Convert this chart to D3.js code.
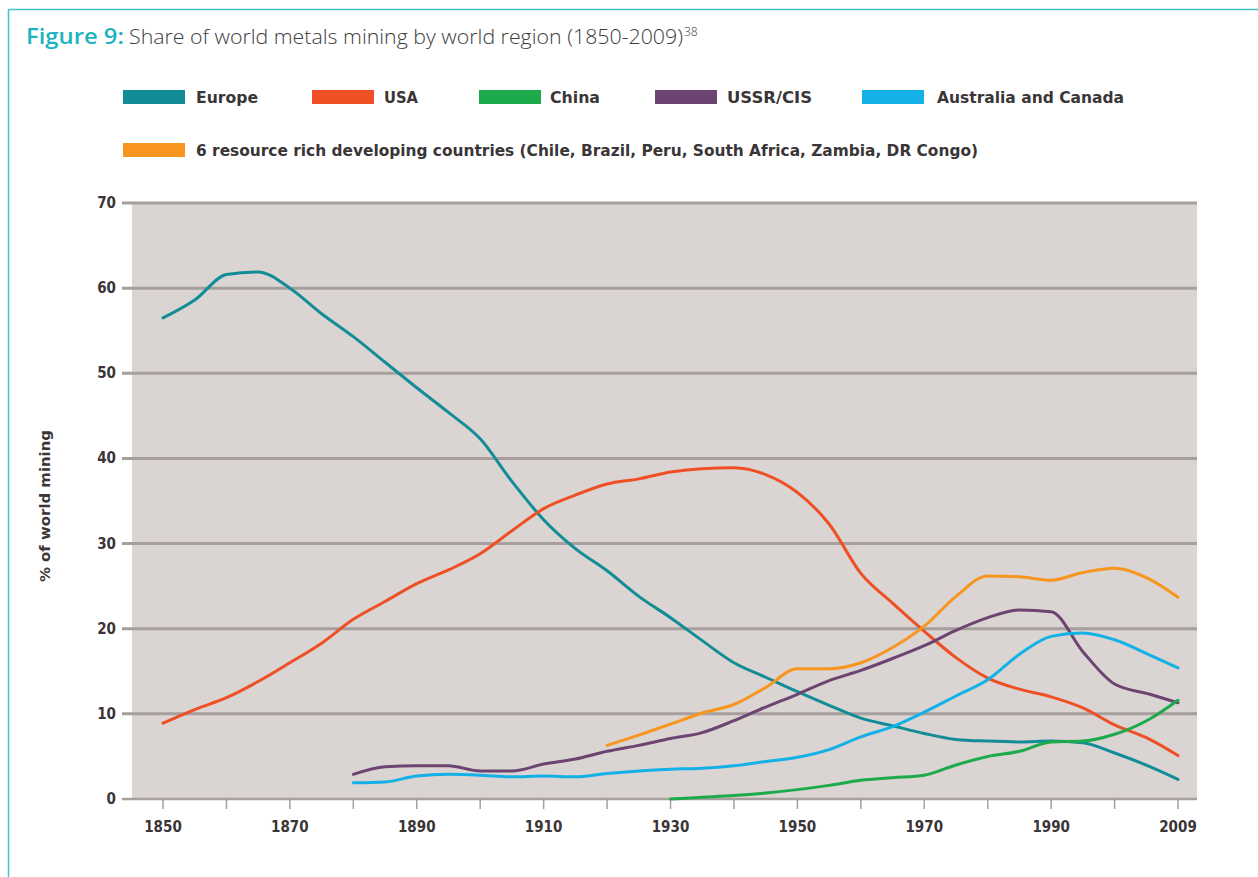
<!DOCTYPE html>
<html>
<head>
<meta charset="utf-8">
<script src="https://cdn.jsdelivr.net/npm/d3@7"></script>
<style>
  html, body { margin: 0; padding: 0; background: #ffffff; }
  svg { display: block; }
</style>
</head>
<body>
<svg id="chart" width="1258" height="877"></svg>
<script>
// ---------- DATA ----------
const years = [1850,1855,1860,1865,1870,1875,1880,1885,1890,1895,1900,1905,1910,1915,1920,1925,1930,1935,1940,1945,1950,1955,1960,1965,1970,1975,1980,1985,1990,1995,2000,2005,2009];

const europe = [56.5,58.6,61.6,61.9,60.0,57.0,54.3,51.3,48.3,45.4,42.3,37.3,32.8,29.4,26.8,23.8,21.3,18.6,16.0,14.3,12.6,11.0,9.5,8.6,7.7,7.0,6.8,6.7,6.8,6.6,5.4,3.8,2.3];
const usa    = [8.9,10.5,11.9,13.8,16.0,18.3,21.1,23.2,25.3,26.9,28.8,31.5,34.1,35.7,37.0,37.6,38.4,38.8,38.9,38.1,36.0,32.3,26.5,23.0,19.7,16.6,14.2,12.9,12.0,10.7,8.7,7.0,5.1];
const china  = [null,null,null,null,null,null,null,null,null,null,null,null,null,null,null,null,0.0,0.2,0.4,0.7,1.1,1.6,2.2,2.5,2.8,4.0,5.0,5.6,6.7,6.8,7.6,9.4,11.6];
const ussr   = [null,null,null,null,null,null,2.9,3.8,3.9,3.9,3.3,3.3,4.1,4.7,5.6,6.3,7.1,7.8,9.2,10.8,12.3,13.9,15.1,16.5,18.0,19.8,21.3,22.2,22.0,17.3,13.5,12.3,11.3];
const ausCan = [null,null,null,null,null,null,1.9,2.0,2.7,2.9,2.8,2.6,2.7,2.6,3.0,3.3,3.5,3.6,3.9,4.4,4.9,5.8,7.3,8.5,10.2,12.1,14.0,17.0,19.1,19.5,18.7,16.9,15.4];
const rich6  = [null,null,null,null,null,null,null,null,null,null,null,null,null,null,6.3,7.5,8.8,10.1,11.1,13.1,15.3,15.3,16.0,17.8,20.3,23.8,26.2,26.1,25.7,26.6,27.1,25.8,23.7];

const seriesNames = ["Europe","USA","China","USSR/CIS","Australia and Canada","6 resource rich developing countries (Chile, Brazil, Peru, South Africa, Zambia, DR Congo)"];
const yTicks = [0,10,20,30,40,50,60,70];
const xTicks = [1850,1860,1870,1880,1890,1900,1910,1920,1930,1940,1950,1960,1970,1980,1990,2000,2009];
const xTickLabels = [1850,1870,1890,1910,1930,1950,1970,1990,2009];

// ---------- STYLE ----------
const colors = ["#128d98","#ef4f24","#1caa4b","#6c4472","#13b1e6","#f7951f"];
const seriesValues = [europe, usa, china, ussr, ausCan, rich6];

const svg = d3.select("#chart");

// frame border
svg.append("line").attr("x1",8.5).attr("x2",1258).attr("y1",9.5).attr("y2",9.5)
  .attr("stroke","#45c0c7").attr("stroke-width",1.5);
svg.append("line").attr("x1",8.5).attr("x2",8.5).attr("y1",9.5).attr("y2",877)
  .attr("stroke","#45c0c7").attr("stroke-width",1.5);

// title
const title = svg.append("text").attr("y",44)
  .attr("font-family","Open Sans, Roboto, sans-serif").attr("font-size",21);
title.append("tspan").attr("x",26).attr("fill","#1db3c0").attr("font-weight",600)
  .attr("textLength",98).attr("lengthAdjust","spacingAndGlyphs").text("Figure 9:");
title.append("tspan").attr("x",129).attr("fill","#3c3c3c").attr("font-weight",300)
  .attr("textLength",554).attr("lengthAdjust","spacingAndGlyphs")
  .text("Share of world metals mining by world region (1850-2009)");
title.append("tspan").attr("x",684).attr("fill","#3c3c3c").attr("font-weight",300).attr("font-size",12)
  .attr("dy",-8).text("38");

// ---------- SCALES ----------
const x = d3.scaleLinear().domain([1850, 2000, 2009]).range([163, 1114.6, 1178]);
const y = d3.scaleLinear().domain([0, 70]).range([799, 203]);
const plotLeft = 132, plotRight = 1197, gridLeft = 122;

// background
svg.append("rect").attr("x",plotLeft).attr("y",y(70)).attr("width",plotRight-plotLeft)
  .attr("height",y(0)-y(70)).attr("fill","#dad4d2");

// gridlines
svg.append("g").selectAll("line").data(yTicks).join("line")
  .attr("x1",gridLeft).attr("x2",plotRight)
  .attr("y1",d=>y(d)).attr("y2",d=>y(d))
  .attr("stroke","#a69f9d").attr("stroke-width",d=>d===0?2.5:3);

// y labels
svg.append("g").selectAll("text").data(yTicks).join("text")
  .attr("x",116).attr("y",d=>y(d)+5).attr("text-anchor","end")
  .attr("font-family","DejaVu Sans Condensed, DejaVu Sans, sans-serif")
  .attr("font-weight","bold").attr("font-size",15).attr("fill","#3a3536")
  .text(d=>d);

// y title
svg.append("text").attr("transform","translate(50,506) rotate(-90)")
  .attr("x",-76)
  .attr("textLength",152).attr("lengthAdjust","spacingAndGlyphs")
  .attr("font-family","DejaVu Sans Condensed, DejaVu Sans, sans-serif")
  .attr("font-weight","bold").attr("font-size",14).attr("fill","#3a3536")
  .text("% of world mining");

// x ticks
svg.append("g").selectAll("line").data(xTicks).join("line")
  .attr("x1",d=>x(d)).attr("x2",d=>x(d)).attr("y1",799).attr("y2",809)
  .attr("stroke","#a69f9d").attr("stroke-width",1.5);
svg.append("g").selectAll("text").data(xTickLabels).join("text")
  .attr("x",d=>x(d)).attr("y",832).attr("text-anchor","middle")
  .attr("font-family","DejaVu Sans Condensed, DejaVu Sans, sans-serif")
  .attr("font-weight","bold").attr("font-size",15).attr("fill","#3a3536")
  .text(d=>d);

// lines
const line = d3.line()
  .defined(d=>d[1]!==null)
  .x(d=>x(d[0])).y(d=>y(d[1]))
  .curve(d3.curveMonotoneX);
const drawOrder = [0,1,3,4,5,2];
svg.append("g").selectAll("path").data(drawOrder).join("path")
  .attr("d",i=>line(years.map((yr,k)=>[yr, seriesValues[i][k]])))
  .attr("fill","none").attr("stroke",i=>colors[i]).attr("stroke-width",3)
  .attr("stroke-linejoin","round").attr("stroke-linecap","round");

// legend
const legendPos = [
  {sx:123, tx:196, ty:97, tw:62},
  {sx:312, tx:384, ty:97, tw:34},
  {sx:479, tx:550, ty:97, tw:50},
  {sx:655, tx:727, ty:97, tw:85},
  {sx:862, tx:937, ty:97, tw:187},
  {sx:123, tx:196, ty:150, tw:782}
];
const leg = svg.append("g");
leg.selectAll("rect").data(seriesNames).join("rect")
  .attr("x",(d,i)=>legendPos[i].sx).attr("y",(d,i)=>legendPos[i].ty-7)
  .attr("width",62).attr("height",14).attr("fill",(d,i)=>colors[i]);
leg.selectAll("text").data(seriesNames).join("text")
  .attr("x",(d,i)=>legendPos[i].tx).attr("y",(d,i)=>legendPos[i].ty+5.5)
  .attr("textLength",(d,i)=>legendPos[i].tw).attr("lengthAdjust","spacingAndGlyphs")
  .attr("font-family","DejaVu Sans Condensed, DejaVu Sans, sans-serif")
  .attr("font-weight","bold").attr("font-size",15).attr("fill","#3a3536")
  .text(d=>d);
</script>
</body>
</html>
